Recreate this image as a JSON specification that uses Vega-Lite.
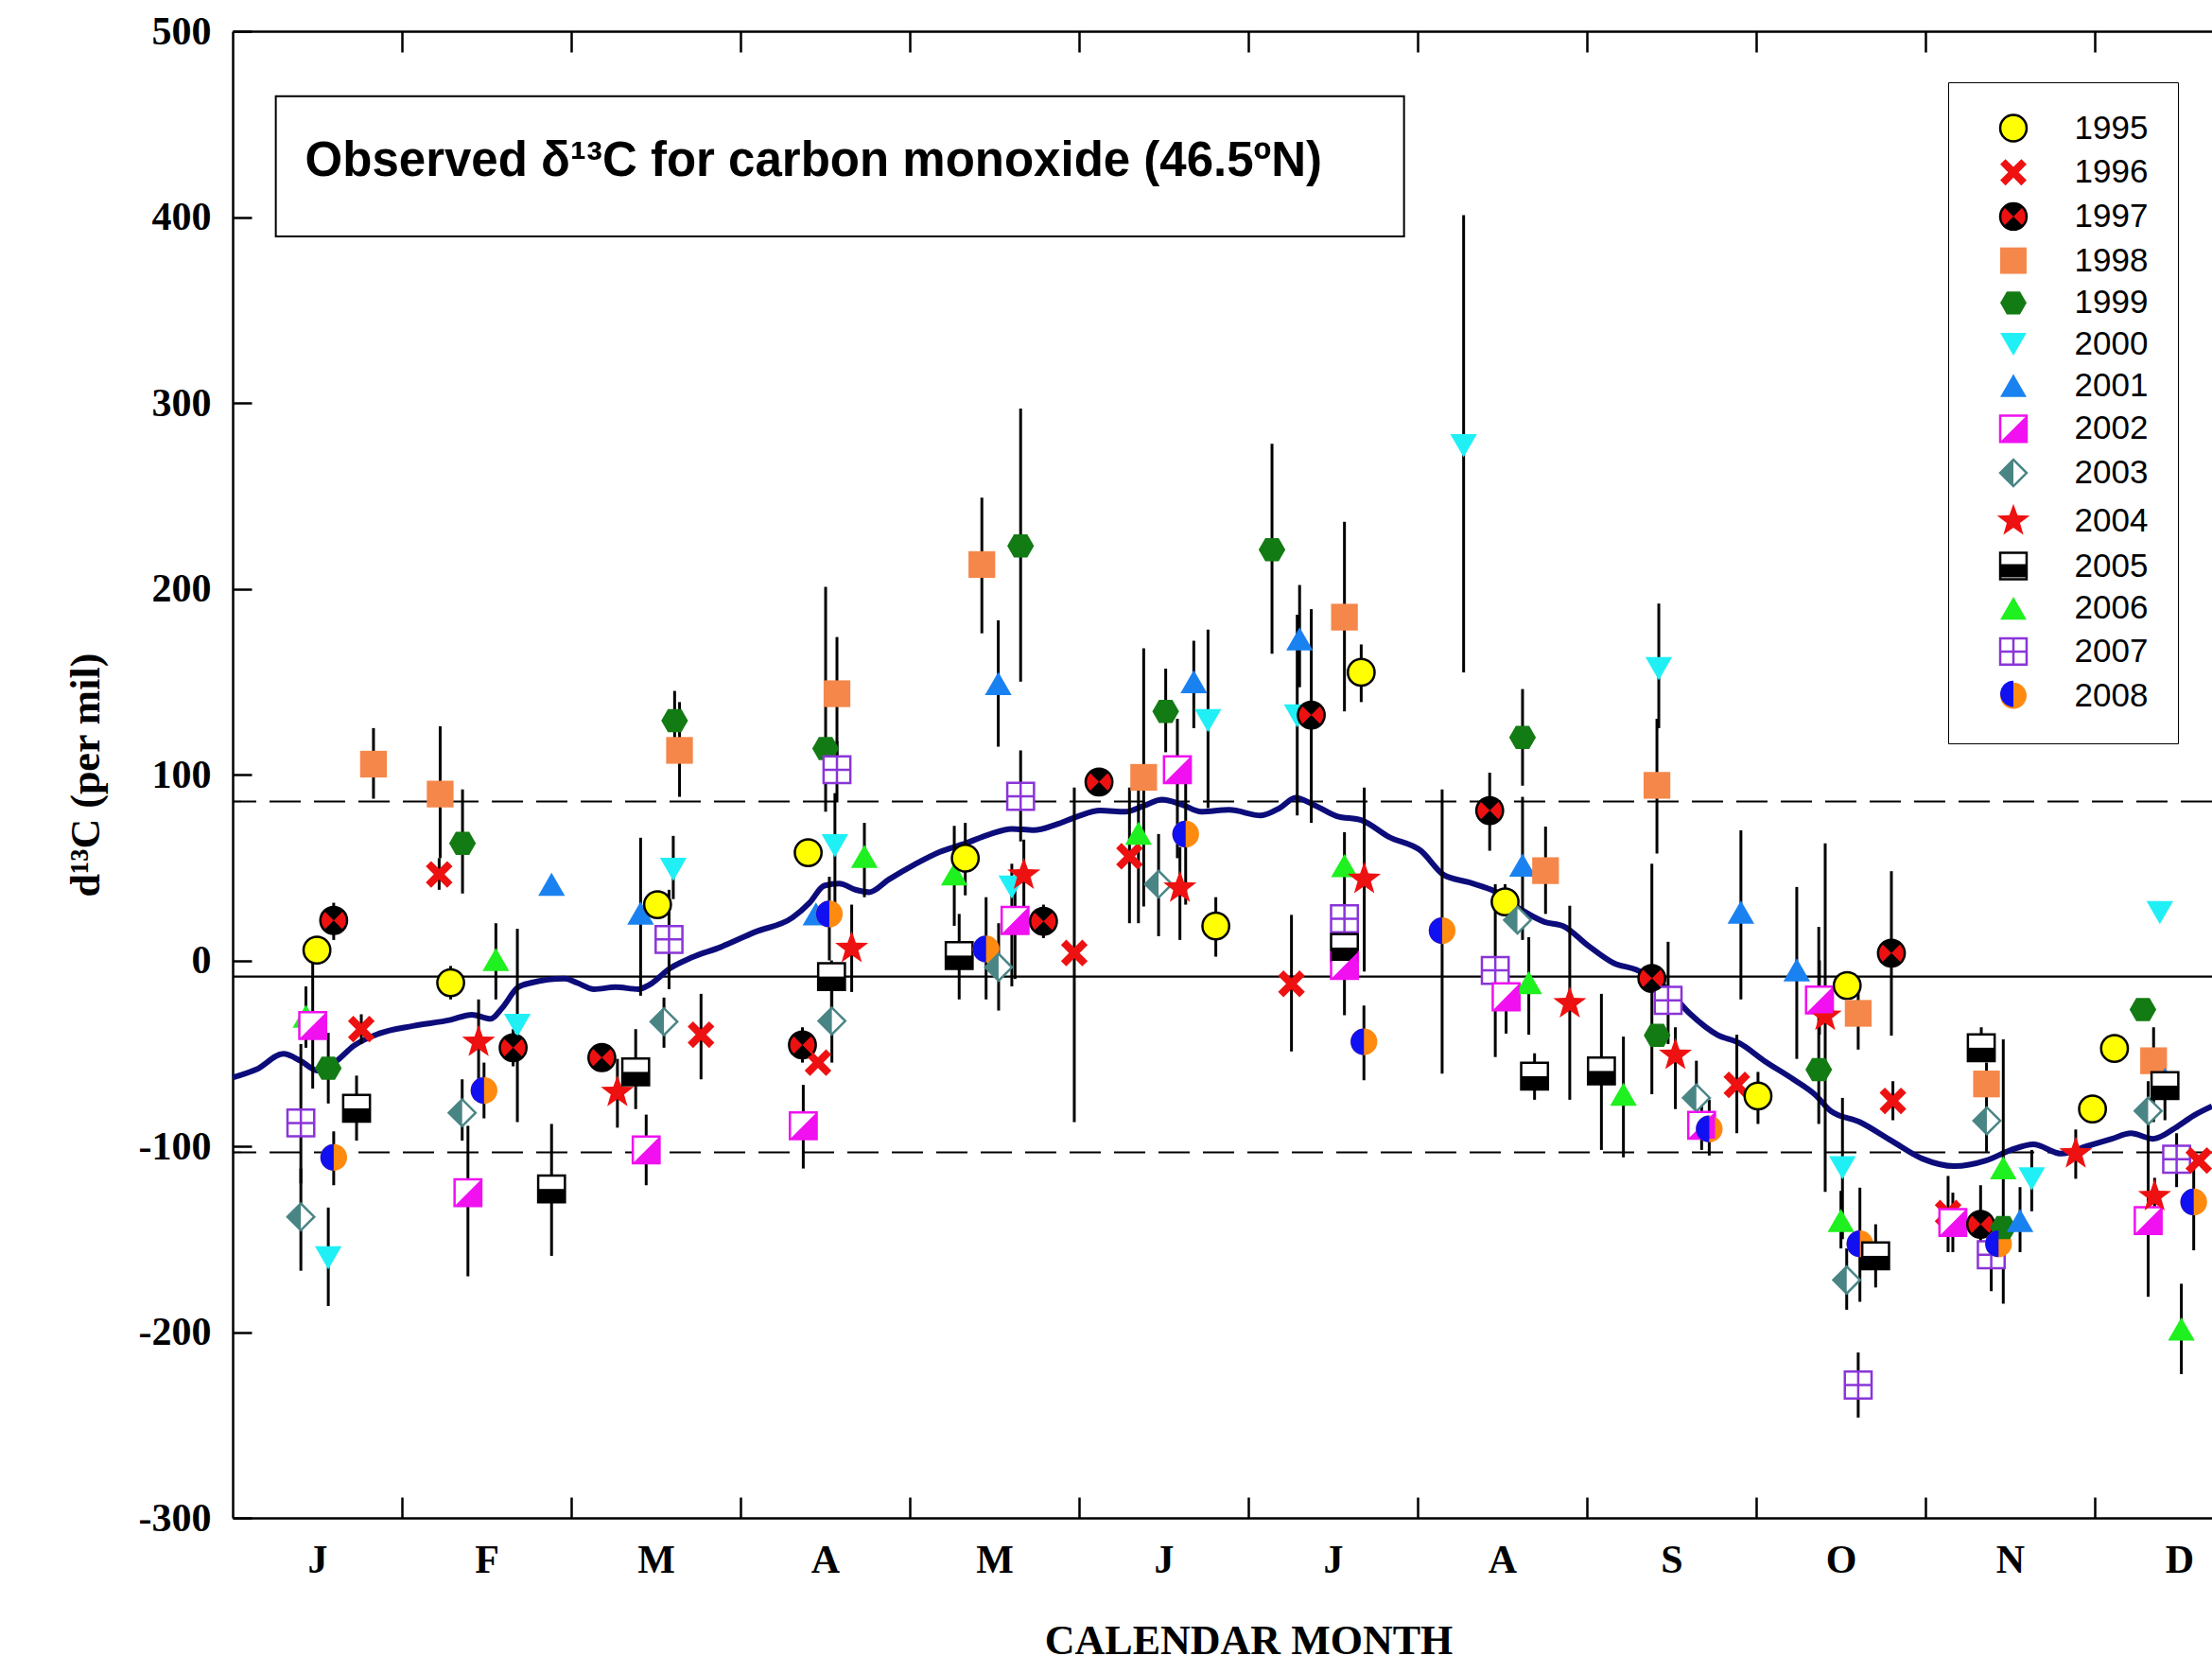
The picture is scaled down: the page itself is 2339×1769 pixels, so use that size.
{
  "$schema": "https://vega.github.io/schema/vega-lite/v6.json",
  "width": 2093,
  "height": 1572,
  "autosize": {"type": "none"},
  "padding": {"left": 246, "top": 33, "right": 0, "bottom": 164},
  "background": "white",
  "config": {"view": {"stroke": null}, "axis": {"grid": false}},
  "datasets": {
    "pts": [
      {"yr": 2007, "m": 0.403, "v": -87.5, "lo": -120, "hi": -45},
      {"yr": 2003, "m": 0.403, "v": -138, "lo": -167, "hi": -112},
      {"yr": 2006, "m": 0.433, "v": -30, "lo": -47, "hi": -14},
      {"yr": 2002, "m": 0.473, "v": -35, "lo": -69, "hi": -1},
      {"yr": 1995, "m": 0.498, "v": 5.5, "lo": 0, "hi": 11},
      {"yr": 1999, "m": 0.565, "v": -58, "lo": -77, "hi": -39},
      {"yr": 2000, "m": 0.565, "v": -160, "lo": -186, "hi": -133},
      {"yr": 1997, "m": 0.597, "v": 21.5, "lo": 11, "hi": 31},
      {"yr": 2008, "m": 0.597, "v": -106, "lo": -121, "hi": -92},
      {"yr": 2005, "m": 0.732, "v": -79.6, "lo": -97, "hi": -62},
      {"yr": 1996, "m": 0.76, "v": -37, "lo": -45, "hi": -29},
      {"yr": 1998, "m": 0.832, "v": 105.6, "lo": 87, "hi": 125},
      {"yr": 1996, "m": 1.22, "v": 46.3, "lo": 38, "hi": 55},
      {"yr": 1998, "m": 1.226, "v": 89.5, "lo": 55, "hi": 126},
      {"yr": 1995, "m": 1.288, "v": -12, "lo": -21, "hi": -3},
      {"yr": 2003, "m": 1.356, "v": -82, "lo": -97, "hi": -64},
      {"yr": 1999, "m": 1.358, "v": 63, "lo": 36, "hi": 92},
      {"yr": 2002, "m": 1.39, "v": -125, "lo": -170, "hi": -89},
      {"yr": 2004, "m": 1.453, "v": -44, "lo": -64, "hi": -21},
      {"yr": 2008, "m": 1.485, "v": -70, "lo": -85, "hi": -55},
      {"yr": 2006, "m": 1.555, "v": 0.5, "lo": -21, "hi": 20},
      {"yr": 1997, "m": 1.657, "v": -47, "lo": -57, "hi": -37},
      {"yr": 2000, "m": 1.682, "v": -35, "lo": -87, "hi": 17},
      {"yr": 2005, "m": 1.884, "v": -123, "lo": -159, "hi": -88},
      {"yr": 2001, "m": 1.884, "v": 41},
      {"yr": 1997, "m": 2.181, "v": -52.3},
      {"yr": 2004, "m": 2.273, "v": -71, "lo": -90, "hi": -53},
      {"yr": 2005, "m": 2.381, "v": -60, "lo": -80, "hi": -37},
      {"yr": 2001, "m": 2.41, "v": 25.4, "lo": -19, "hi": 66},
      {"yr": 2002, "m": 2.443, "v": -102, "lo": -121, "hi": -83},
      {"yr": 1995, "m": 2.51, "v": 30, "lo": 24, "hi": 36},
      {"yr": 2003, "m": 2.548, "v": -33, "lo": -47, "hi": -20},
      {"yr": 2007, "m": 2.578, "v": 11.3, "lo": -15.5, "hi": 38},
      {"yr": 2000, "m": 2.603, "v": 49, "lo": 33, "hi": 67},
      {"yr": 1999, "m": 2.611, "v": 129, "lo": 113, "hi": 145},
      {"yr": 1998, "m": 2.64, "v": 113, "lo": 88, "hi": 139},
      {"yr": 1996, "m": 2.767, "v": -40, "lo": -64, "hi": -18},
      {"yr": 1997, "m": 3.366, "v": -45.5, "lo": -55, "hi": -36},
      {"yr": 2002, "m": 3.371, "v": -89, "lo": -112, "hi": -67},
      {"yr": 1995, "m": 3.4, "v": 58},
      {"yr": 2001, "m": 3.446, "v": 25},
      {"yr": 1996, "m": 3.458, "v": -55},
      {"yr": 1999, "m": 3.503, "v": 114, "lo": 80, "hi": 201},
      {"yr": 2008, "m": 3.525, "v": 25, "lo": 0, "hi": 45},
      {"yr": 2005, "m": 3.538, "v": -8.7, "lo": -30, "hi": 0},
      {"yr": 2003, "m": 3.54, "v": -32.6, "lo": -55, "hi": -15},
      {"yr": 2000, "m": 3.558, "v": 61.7, "lo": 25, "hi": 90},
      {"yr": 2007, "m": 3.57, "v": 102.6, "lo": 85, "hi": 118},
      {"yr": 1998, "m": 3.57, "v": 143.5, "lo": 100, "hi": 174},
      {"yr": 2004, "m": 3.657, "v": 6.5, "lo": -17, "hi": 30},
      {"yr": 2006, "m": 3.732, "v": 56, "lo": 34, "hi": 74},
      {"yr": 2006, "m": 4.263, "v": 46.5, "lo": 18.6, "hi": 72.4},
      {"yr": 2005, "m": 4.292, "v": 2.6, "lo": -21, "hi": 25},
      {"yr": 1995, "m": 4.328, "v": 55, "lo": 35, "hi": 74},
      {"yr": 1998, "m": 4.426, "v": 213, "lo": 176, "hi": 249},
      {"yr": 2008, "m": 4.451, "v": 6.1, "lo": -21, "hi": 34},
      {"yr": 2001, "m": 4.523, "v": 149, "lo": 115, "hi": 183},
      {"yr": 2003, "m": 4.525, "v": -3.7, "lo": -27, "hi": 20},
      {"yr": 2000, "m": 4.603, "v": 39.5, "lo": -14, "hi": 52},
      {"yr": 2002, "m": 4.622, "v": 21.5, "lo": -10, "hi": 40},
      {"yr": 1999, "m": 4.655, "v": 223, "lo": 150, "hi": 297},
      {"yr": 2007, "m": 4.655, "v": 88.3, "lo": 64, "hi": 113},
      {"yr": 2004, "m": 4.674, "v": 46, "lo": 20, "hi": 65},
      {"yr": 1997, "m": 4.79, "v": 21, "lo": 12, "hi": 30},
      {"yr": 1996, "m": 4.972, "v": 4, "lo": -87, "hi": 93},
      {"yr": 1997, "m": 5.118, "v": 96},
      {"yr": 1996, "m": 5.298, "v": 56, "lo": 20, "hi": 93},
      {"yr": 2006, "m": 5.351, "v": 68.5, "lo": 20, "hi": 95},
      {"yr": 1998, "m": 5.382, "v": 98.5, "lo": 29, "hi": 168},
      {"yr": 2003, "m": 5.47, "v": 41, "lo": 13, "hi": 68},
      {"yr": 1999, "m": 5.512, "v": 134, "lo": 112, "hi": 157},
      {"yr": 2002, "m": 5.581, "v": 102.6, "lo": 55, "hi": 130},
      {"yr": 2004, "m": 5.596, "v": 39, "lo": 11, "hi": 61},
      {"yr": 2008, "m": 5.63, "v": 68, "lo": 30, "hi": 95},
      {"yr": 2001, "m": 5.678, "v": 150, "lo": 125, "hi": 172},
      {"yr": 2000, "m": 5.762, "v": 129, "lo": 82, "hi": 178},
      {"yr": 1995, "m": 5.808, "v": 18.5, "lo": 2, "hi": 34},
      {"yr": 1999, "m": 6.14, "v": 221, "lo": 165, "hi": 278},
      {"yr": 1996, "m": 6.255, "v": -12.6, "lo": -49, "hi": 24.5},
      {"yr": 2000, "m": 6.289, "v": 131.5, "lo": 78, "hi": 186},
      {"yr": 2001, "m": 6.303, "v": 173, "lo": 147, "hi": 202},
      {"yr": 1997, "m": 6.372, "v": 132, "lo": 74, "hi": 189},
      {"yr": 1998, "m": 6.568, "v": 184.7, "lo": 134, "hi": 236},
      {"yr": 2006, "m": 6.568, "v": 51, "lo": -29.5, "hi": 69},
      {"yr": 2007, "m": 6.568, "v": 22.4},
      {"yr": 2005, "m": 6.568, "v": 6.9},
      {"yr": 2002, "m": 6.568, "v": -2.7},
      {"yr": 1995, "m": 6.667, "v": 155, "lo": 139, "hi": 170},
      {"yr": 2004, "m": 6.685, "v": 43.7, "lo": -6, "hi": 93},
      {"yr": 2008, "m": 6.683, "v": -43.8, "lo": -64.5, "hi": -24.3},
      {"yr": 2008, "m": 7.145, "v": 16, "lo": -61, "hi": 92},
      {"yr": 2000, "m": 7.272, "v": 277, "lo": 155, "hi": 401},
      {"yr": 1997, "m": 7.426, "v": 80.6, "lo": 59, "hi": 101},
      {"yr": 2007, "m": 7.459, "v": -5.4, "lo": -52, "hi": 41},
      {"yr": 1995, "m": 7.517, "v": 31.5, "lo": 25, "hi": 41},
      {"yr": 2002, "m": 7.523, "v": -19.6, "lo": -39.4, "hi": 0},
      {"yr": 2003, "m": 7.59, "v": 21.7},
      {"yr": 1999, "m": 7.62, "v": 120, "lo": 94, "hi": 146},
      {"yr": 2001, "m": 7.62, "v": 51.3, "lo": 11, "hi": 88},
      {"yr": 2006, "m": 7.657, "v": -12, "lo": -40, "hi": 12.5},
      {"yr": 2005, "m": 7.691, "v": -62.3, "lo": -75, "hi": -50},
      {"yr": 1998, "m": 7.756, "v": 48.3, "lo": 25, "hi": 72},
      {"yr": 2004, "m": 7.899, "v": -23.2, "lo": -75, "hi": 29.4},
      {"yr": 2005, "m": 8.086, "v": -59.5, "lo": -102, "hi": -18},
      {"yr": 2006, "m": 8.216, "v": -72, "lo": -106, "hi": -41},
      {"yr": 1997, "m": 8.384, "v": -9.7, "lo": -72, "hi": 52},
      {"yr": 1998, "m": 8.414, "v": 94.2, "lo": 57.5, "hi": 130},
      {"yr": 1999, "m": 8.415, "v": -40.3},
      {"yr": 2000, "m": 8.425, "v": 157, "lo": 125, "hi": 192},
      {"yr": 2007, "m": 8.48, "v": -21.5, "lo": -45, "hi": 10},
      {"yr": 2004, "m": 8.523, "v": -51, "lo": -80, "hi": -36},
      {"yr": 2003, "m": 8.647, "v": -74, "lo": -92, "hi": -54},
      {"yr": 2002, "m": 8.678, "v": -88.7, "lo": -102, "hi": -75},
      {"yr": 2008, "m": 8.723, "v": -90.7, "lo": -105, "hi": -75},
      {"yr": 1996, "m": 8.886, "v": -67, "lo": -93, "hi": -40},
      {"yr": 2001, "m": 8.91, "v": 26, "lo": -21, "hi": 70},
      {"yr": 1995, "m": 9.011, "v": -73, "lo": -88, "hi": -60},
      {"yr": 2001, "m": 9.24, "v": -5.1, "lo": -53, "hi": 39.5},
      {"yr": 1999, "m": 9.37, "v": -58.8, "lo": -88, "hi": 18},
      {"yr": 2002, "m": 9.374, "v": -21.3, "lo": -40, "hi": 0},
      {"yr": 2004, "m": 9.408, "v": -30, "lo": -124.5, "hi": 63},
      {"yr": 2006, "m": 9.501, "v": -140, "lo": -155, "hi": -124},
      {"yr": 2000, "m": 9.51, "v": -111.6, "lo": -150, "hi": -74},
      {"yr": 2003, "m": 9.535, "v": -172, "lo": -188, "hi": -155},
      {"yr": 1995, "m": 9.538, "v": -13.5},
      {"yr": 1998, "m": 9.603, "v": -28.5, "lo": -48, "hi": -10},
      {"yr": 2007, "m": 9.603, "v": -228.5, "lo": -246, "hi": -211},
      {"yr": 2008, "m": 9.613, "v": -152.5, "lo": -183.7, "hi": -122.3},
      {"yr": 2005, "m": 9.706, "v": -159, "lo": -176, "hi": -142},
      {"yr": 1997, "m": 9.799, "v": 3.9, "lo": -40.5, "hi": 48},
      {"yr": 1996, "m": 9.808, "v": -75.6, "lo": -86, "hi": -65},
      {"yr": 1996, "m": 10.134, "v": -136, "lo": -157, "hi": -116},
      {"yr": 2002, "m": 10.162, "v": -141, "lo": -157, "hi": -125},
      {"yr": 1997, "m": 10.326, "v": -142, "lo": -160, "hi": -121},
      {"yr": 2005, "m": 10.33, "v": -47, "lo": -54, "hi": -36},
      {"yr": 1998, "m": 10.361, "v": -66.5, "lo": -103, "hi": -55},
      {"yr": 2003, "m": 10.363, "v": -86.3},
      {"yr": 2007, "m": 10.389, "v": -158.4, "lo": -178, "hi": -140},
      {"yr": 2008, "m": 10.432, "v": -152.5},
      {"yr": 2006, "m": 10.46, "v": -111.6, "lo": -184.7, "hi": -42.5},
      {"yr": 1999, "m": 10.46, "v": -143.8},
      {"yr": 2001, "m": 10.559, "v": -140, "lo": -157, "hi": -122},
      {"yr": 2000, "m": 10.628, "v": -117.5, "lo": -135, "hi": -102},
      {"yr": 2004, "m": 10.888, "v": -104, "lo": -117.5, "hi": -91},
      {"yr": 1995, "m": 10.987, "v": -80},
      {"yr": 1995, "m": 11.117, "v": -47.4},
      {"yr": 1999, "m": 11.285, "v": -26.5},
      {"yr": 2003, "m": 11.316, "v": -81, "lo": -95, "hi": -65},
      {"yr": 2002, "m": 11.316, "v": -140, "lo": -181, "hi": -95},
      {"yr": 1998, "m": 11.348, "v": -54, "lo": -87, "hi": -36},
      {"yr": 2004, "m": 11.354, "v": -127, "lo": -136, "hi": -117},
      {"yr": 2000, "m": 11.385, "v": 25.7},
      {"yr": 2001, "m": 11.415, "v": -64},
      {"yr": 2005, "m": 11.415, "v": -67.4, "lo": -86, "hi": -61},
      {"yr": 2007, "m": 11.484, "v": -107, "lo": -122, "hi": -93},
      {"yr": 2006, "m": 11.512, "v": -198.3, "lo": -222.6, "hi": -174},
      {"yr": 2008, "m": 11.585, "v": -130, "lo": -156, "hi": -111},
      {"yr": 1996, "m": 11.615, "v": -107.7}
    ],
    "curve": [
      {"m": 0, "v": -63}, {"m": 0.14, "v": -58.7}, {"m": 0.3, "v": -50.3}, {"m": 0.4, "v": -54}, {"m": 0.5, "v": -59.3},
      {"m": 0.615, "v": -54}, {"m": 0.715, "v": -46}, {"m": 0.864, "v": -39.4}, {"m": 1.064, "v": -35.3}, {"m": 1.288, "v": -32},
      {"m": 1.413, "v": -29.2}, {"m": 1.525, "v": -31.4}, {"m": 1.59, "v": -25.8}, {"m": 1.687, "v": -14.4}, {"m": 1.762, "v": -12.1},
      {"m": 1.962, "v": -9.8}, {"m": 2.036, "v": -12.1}, {"m": 2.136, "v": -15.5}, {"m": 2.261, "v": -14.4}, {"m": 2.398, "v": -15.5},
      {"m": 2.461, "v": -13.2}, {"m": 2.585, "v": -4.2}, {"m": 2.71, "v": 1.5}, {"m": 2.884, "v": 7.2}, {"m": 3.084, "v": 15.2},
      {"m": 3.308, "v": 23.1}, {"m": 3.408, "v": 31}, {"m": 3.495, "v": 40.2}, {"m": 3.583, "v": 41.3}, {"m": 3.683, "v": 37.9},
      {"m": 3.76, "v": 36.7}, {"m": 3.877, "v": 43.6}, {"m": 4.026, "v": 51.5}, {"m": 4.175, "v": 58.3}, {"m": 4.324, "v": 62.8},
      {"m": 4.473, "v": 67.9}, {"m": 4.603, "v": 70.8}, {"m": 4.734, "v": 70.1}, {"m": 4.864, "v": 73.1}, {"m": 4.994, "v": 77.6},
      {"m": 5.125, "v": 80.6}, {"m": 5.274, "v": 80}, {"m": 5.385, "v": 83.3}, {"m": 5.49, "v": 86.5}, {"m": 5.609, "v": 83.8},
      {"m": 5.721, "v": 80}, {"m": 5.888, "v": 81}, {"m": 6.074, "v": 78}, {"m": 6.186, "v": 82}, {"m": 6.279, "v": 87.5},
      {"m": 6.38, "v": 84}, {"m": 6.52, "v": 77.7}, {"m": 6.67, "v": 75.4}, {"m": 6.83, "v": 66.5}, {"m": 7.02, "v": 59},
      {"m": 7.155, "v": 46}, {"m": 7.303, "v": 42}, {"m": 7.46, "v": 37}, {"m": 7.61, "v": 27.4}, {"m": 7.75, "v": 20.7},
      {"m": 7.86, "v": 18.5}, {"m": 8.011, "v": 7.7}, {"m": 8.16, "v": -1.5}, {"m": 8.29, "v": -5}, {"m": 8.458, "v": -14},
      {"m": 8.607, "v": -28.5}, {"m": 8.77, "v": -40}, {"m": 8.9, "v": -44.5}, {"m": 9.054, "v": -54.4}, {"m": 9.22, "v": -64},
      {"m": 9.352, "v": -72.6}, {"m": 9.44, "v": -81}, {"m": 9.613, "v": -87}, {"m": 9.799, "v": -97}, {"m": 9.985, "v": -106.8},
      {"m": 10.171, "v": -110.7}, {"m": 10.358, "v": -107.7}, {"m": 10.507, "v": -102}, {"m": 10.637, "v": -99}, {"m": 10.804, "v": -104},
      {"m": 10.953, "v": -100}, {"m": 11.102, "v": -96}, {"m": 11.214, "v": -93}, {"m": 11.345, "v": -96}, {"m": 11.475, "v": -90.2},
      {"m": 11.587, "v": -83.4}, {"m": 11.693, "v": -78.5}
    ]
  },
  "layer": [
    {
      "data": {"values": [{}]},
      "mark": {"type": "rect", "fill": "white", "stroke": "black", "strokeWidth": 2},
      "encoding": {
        "x": {"datum": 0.255, "type": "quantitative", "axis": null},
        "x2": {"datum": 6.92},
        "y": {"datum": 465, "type": "quantitative", "axis": null},
        "y2": {"datum": 389.6}
      }
    },
    {
      "data": {"values": [{}]},
      "mark": {"type": "rule", "color": "black", "strokeWidth": 2.2},
      "encoding": {"y": {"datum": -8.7, "type": "quantitative", "axis": null}}
    },
    {
      "data": {"values": [{"lvl": 85.5}, {"lvl": -103.3}]},
      "mark": {"type": "rule", "color": "black", "strokeWidth": 2.2, "strokeDash": [33, 14]},
      "encoding": {"y": {"field": "lvl", "type": "quantitative", "axis": null}}
    },
    {
      "data": {"name": "curve"},
      "mark": {"type": "line", "color": "#0c0c7a", "strokeWidth": 6, "interpolate": "monotone"},
      "encoding": {
        "x": {"field": "m", "type": "quantitative", "scale": {"domain": [0, 11.693], "nice": false, "zero": false},
          "axis": {"orient": "bottom", "values": [1, 2, 3, 4, 5, 6, 7, 8, 9, 10, 11], "labels": false, "ticks": true, "tickSize": -22, "tickWidth": 2.5, "tickColor": "black", "domain": false, "grid": false, "title": null}},
        "y": {"field": "v", "type": "quantitative", "scale": {"domain": [-300, 500], "nice": false, "zero": false},
          "axis": {"orient": "left", "values": [-300, -200, -100, 0, 100, 200, 300, 400, 500], "labels": false, "ticks": true, "tickSize": -20, "tickWidth": 2.5, "tickColor": "black", "domain": false, "grid": false, "title": null}}
      }
    },
    {
      "data": {"name": "pts"},
      "transform": [{"filter": "isValid(datum.lo)"}],
      "mark": {"type": "rule", "color": "black", "strokeWidth": 3},
      "encoding": {
        "x": {"field": "m", "type": "quantitative", "scale": {"domain": [0, 11.693], "nice": false, "zero": false},
          "axis": {"orient": "bottom", "values": [0.5, 1.5, 2.5, 3.5, 4.5, 5.5, 6.5, 7.5, 8.5, 9.5, 10.5, 11.5], "ticks": false,
            "labelExpr": "['J','F','M','A','M','J','J','A','S','O','N','D'][floor(datum.value)]",
            "labelFont": "Liberation Serif", "labelFontWeight": "bold", "labelFontSize": 42, "labelColor": "black",
            "labelPadding": 57, "labelBaseline": "alphabetic", "labelAlign": "center", "labelFlush": false, "labelOverlap": false,
            "domain": true, "domainColor": "black", "domainWidth": 2.5, "grid": false,
            "title": "CALENDAR MONTH", "titleFont": "Liberation Serif", "titleFontWeight": "bold", "titleFontSize": 44, "titleColor": "black",
            "titleX": 1074, "titleY": 143, "titleBaseline": "alphabetic", "titleAlign": "center"}},
        "y": {"field": "lo", "type": "quantitative", "scale": {"domain": [-300, 500], "nice": false, "zero": false},
          "axis": {"orient": "left", "values": [-300, -200, -100, 0, 100, 200, 300, 400, 500], "ticks": false,
            "labelExpr": "'' + datum.value",
            "labelFont": "Liberation Serif", "labelFontWeight": "bold", "labelFontSize": 42, "labelColor": "black",
            "labelPadding": 23, "labelBaseline": "middle", "labelAlign": "right", "labelFlush": false, "labelOverlap": false,
            "domain": true, "domainColor": "black", "domainWidth": 2.5, "grid": false,
            "title": "d¹³C (per mil)", "titleFont": "Liberation Serif", "titleFontWeight": "bold", "titleFontSize": 44, "titleColor": "black",
            "titleX": -155, "titleY": 786, "titleAngle": -90, "titleAlign": "center", "titleBaseline": "middle"}},
        "y2": {"field": "hi"}
      }
    },
    {
      "data": {"name": "pts"},
      "mark": {"type": "point", "filled": true, "size": 800, "strokeWidth": 2.5, "opacity": 1},
      "encoding": {
        "x": {"field": "m", "type": "quantitative", "scale": {"domain": [0, 11.693], "nice": false, "zero": false},
          "axis": {"orient": "top", "values": [1, 2, 3, 4, 5, 6, 7, 8, 9, 10, 11], "labels": false, "ticks": true, "tickSize": -22, "tickWidth": 2.5, "tickColor": "black", "domain": true, "domainColor": "black", "domainWidth": 2.5, "grid": false, "title": null}},
        "y": {"field": "v", "type": "quantitative", "scale": {"domain": [-300, 500], "nice": false, "zero": false}, "axis": null},
        "shape": {"field": "yr", "type": "nominal",
          "scale": {"domain": [1995, 1996, 1997, 1998, 1999, 2000, 2001, 2002, 2003, 2004, 2005, 2006, 2007, 2008],
            "range": ["circle",
              "M-1,-0.6L-0.6,-1L0,-0.4L0.6,-1L1,-0.6L0.4,0L1,0.6L0.6,1L0,0.4L-0.6,1L-1,0.6L-0.4,0Z",
              "circle", "square",
              "M-1,0L-0.5,-0.866L0.5,-0.866L1,0L0.5,0.866L-0.5,0.866Z",
              "triangle-down", "triangle-up", "square", "diamond",
              "M0,-1.3L0.31,-0.43L1.24,-0.4L0.5,0.16L0.76,1.05L0,0.52L-0.76,1.05L-0.5,0.16L-1.24,-0.4L-0.31,-0.43Z",
              "square", "triangle-up",
              "M-1,-1H1V1H-1Z M0,-1V1 M-1,0H1",
              "circle"]},
          "legend": {"orient": "none", "legendX": 1814, "legendY": 54, "title": null, "padding": 31, "rowPadding": 7.7, "symbolOffset": 20.5, "labelOffset": 47, "labelFont": "Liberation Sans", "labelFontSize": 35, "labelColor": "black", "strokeColor": "black", "fillColor": "white", "symbolSize": 780, "symbolStrokeWidth": 2.5, "symbolOpacity": 1}},
        "fill": {"field": "yr", "type": "nominal",
          "scale": {"domain": [1995, 1996, 1997, 1998, 1999, 2000, 2001, 2002, 2003, 2004, 2005, 2006, 2007, 2008],
            "range": ["#ffff00", "#ee1111", "#ee1111", "#f5874a", "#137b13", "#20f0f5", "#1a82f0", "#ffffff", "#ffffff", "#ee1111", "#ffffff", "#1ff01f", "#ffffff", "#ff8a10"]},
          "legend": {"orient": "none", "legendX": 1814, "legendY": 54, "title": null, "padding": 31, "rowPadding": 7.7, "symbolOffset": 20.5, "labelOffset": 47, "labelFont": "Liberation Sans", "labelFontSize": 35, "labelColor": "black", "strokeColor": "black", "fillColor": "white", "symbolSize": 780, "symbolStrokeWidth": 2.5, "symbolOpacity": 1}},
        "stroke": {"field": "yr", "type": "nominal",
          "scale": {"domain": [1995, 1996, 1997, 1998, 1999, 2000, 2001, 2002, 2003, 2004, 2005, 2006, 2007, 2008],
            "range": ["#000000", "transparent", "#000000", "transparent", "transparent", "transparent", "transparent", "#f010f0", "#4a8585", "transparent", "#000000", "transparent", "#8a35d8", "transparent"]},
          "legend": {"orient": "none", "legendX": 1814, "legendY": 54, "title": null, "padding": 31, "rowPadding": 7.7, "symbolOffset": 20.5, "labelOffset": 47, "labelFont": "Liberation Sans", "labelFontSize": 35, "labelColor": "black", "strokeColor": "black", "fillColor": "white", "symbolSize": 780, "symbolStrokeWidth": 2.5, "symbolOpacity": 1}}
      }
    },
    {
      "data": {"name": "pts"},
      "mark": {"type": "point", "filled": true, "size": 800, "strokeWidth": 0, "opacity": 1},
      "encoding": {
        "x": {"field": "m", "type": "quantitative", "scale": {"domain": [0, 11.693], "nice": false, "zero": false}, "axis": null},
        "y": {"field": "v", "type": "quantitative", "scale": {"domain": [-300, 500], "nice": false, "zero": false}, "axis": null},
        "shape": {"field": "yr", "type": "nominal",
          "scale": {"domain": [1995, 1996, 1997, 1998, 1999, 2000, 2001, 2002, 2003, 2004, 2005, 2006, 2007, 2008],
            "range": ["circle",
              "M-1,-0.6L-0.6,-1L0,-0.4L0.6,-1L1,-0.6L0.4,0L1,0.6L0.6,1L0,0.4L-0.6,1L-1,0.6L-0.4,0Z",
              "M0,0L-0.7071,-0.7071A1,1 0 0,1 0.7071,-0.7071Z M0,0L0.7071,0.7071A1,1 0 0,1 -0.7071,0.7071Z",
              "square",
              "M-1,0L-0.5,-0.866L0.5,-0.866L1,0L0.5,0.866L-0.5,0.866Z",
              "triangle-down", "triangle-up",
              "M1,-1L1,1L-1,1Z",
              "M0,-1L-1,0L0,1Z",
              "M0,-1.3L0.31,-0.43L1.24,-0.4L0.5,0.16L0.76,1.05L0,0.52L-0.76,1.05L-0.5,0.16L-1.24,-0.4L-0.31,-0.43Z",
              "M-1,0H1V1H-1Z",
              "triangle-up",
              "M-1,-1H1V1H-1Z M0,-1V1 M-1,0H1",
              "M0,-1A1,1 0 0,0 0,1Z"]},
          "legend": {"orient": "none", "legendX": 1814, "legendY": 54, "title": null, "padding": 31, "rowPadding": 7.7, "symbolOffset": 20.5, "labelOffset": 47, "labelFont": "Liberation Sans", "labelFontSize": 35, "labelExpr": "' '", "strokeColor": "transparent", "fillColor": "transparent", "symbolSize": 780, "symbolStrokeWidth": 2.5, "symbolStrokeColor": "transparent", "symbolOpacity": 1}},
        "fill": {"field": "yr", "type": "nominal",
          "scale": {"domain": [1995, 1996, 1997, 1998, 1999, 2000, 2001, 2002, 2003, 2004, 2005, 2006, 2007, 2008],
            "range": ["transparent", "transparent", "#000000", "transparent", "transparent", "transparent", "transparent", "#f010f0", "#4a8585", "transparent", "#000000", "transparent", "transparent", "#1010f0"]},
          "legend": {"orient": "none", "legendX": 1814, "legendY": 54, "title": null, "padding": 31, "rowPadding": 7.7, "symbolOffset": 20.5, "labelOffset": 47, "labelFont": "Liberation Sans", "labelFontSize": 35, "labelExpr": "' '", "strokeColor": "transparent", "fillColor": "transparent", "symbolSize": 780, "symbolStrokeWidth": 2.5, "symbolStrokeColor": "transparent", "symbolOpacity": 1}}
      }
    },
    {
      "data": {"values": [{}]},
      "mark": {"type": "text", "text": "Observed δ¹³C for carbon monoxide (46.5ºN)", "font": "Liberation Sans", "fontWeight": "bold", "fontSize": 51, "align": "left", "baseline": "alphabetic", "color": "black"},
      "encoding": {
        "x": {"datum": 0.428, "type": "quantitative", "axis": null},
        "y": {"datum": 422, "type": "quantitative", "axis": null}
      }
    }
  ],
  "resolve": {
    "axis": {"x": "independent", "y": "independent"},
    "scale": {"shape": "independent", "fill": "independent", "stroke": "independent"}
  }
}
